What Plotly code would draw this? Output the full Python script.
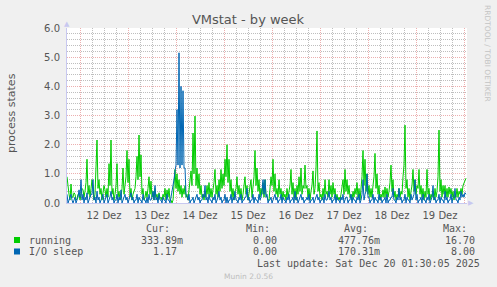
import plotly.graph_objects as go
import pandas as pd

# ---------------- data (30-minute samples) ----------------
start_time = "2025-12-11 17:30"
end_time = "2025-12-20 01:30"

running = [
    0.9, 0.5, 0.3, 0.1, 0.65, 0.2, 0.2, 0.35, 0.3, 0.1, 0.15, 0.3, 0.3, 0.1, 0.25, 0.5, 0.45, 0.2, 0.4, 0.7,
    1.5, 0.3, 0.6, 0.2, 0.5, 0.8, 0.55, 0.1, 0.3, 1.1, 2.16, 0.5, 0.8, 0.3, 0.5, 0.1, 0.3, 0.6, 0.45, 0.2,
    0.5, 0.2, 1.35, 0.6, 2.16, 0.3, 0.5, 0.1, 0.3, 0.6, 1.35, 0.2, 0.4, 0.1, 0.2, 0.5, 1.2, 0.3, 0.6, 0.9,
    1.8, 0.7, 1.5, 0.2, 0.5, 0.1, 0.3, 0.4, 0.5, 0.9, 1.6, 0.8, 2.33, 0.9, 1.65, 0.3, 0.5, 0.1, 0.2, 0.4,
    0.2, 0.5, 0.9, 0.3, 0.75, 0.2, 0.4, 0.1, 0.5, 0.2, 0.3, 0.1, 0.35, 0.15, 0.2, 0.1, 0.3, 0.2, 0.5, 0.1,
    0.45, 0.2, 0.5, 0.1, 0.1, 0.0, 0.1, 0.6, 1.15, 0.5, 1.0, 0.4, 0.8, 0.3, 0.6, 0.2, 0.5, 0.3, 0.6, 0.2,
    0.3, 0.1, 0.5, 0.7, 1.1, 0.6, 2.4, 1.0, 2.98, 0.6, 1.2, 0.5, 1.0, 0.3, 0.6, 0.2, 0.3, 0.1, 0.35, 0.2,
    0.6, 0.3, 0.7, 0.2, 0.5, 0.2, 0.4, 0.7, 1.15, 0.3, 0.6, 0.2, 0.8, 0.4, 1.15, 0.5, 1.0, 0.6, 1.5, 0.9,
    2.0, 0.7, 1.5, 0.4, 0.8, 0.2, 0.5, 0.1, 0.4, 0.5, 0.9, 0.3, 0.6, 0.2, 0.5, 0.1, 0.3, 0.6, 0.9, 0.3,
    0.6, 0.1, 0.35, 0.5, 0.8, 0.2, 0.5, 0.9, 1.8, 0.6, 1.2, 0.4, 0.8, 0.2, 0.5, 0.3, 0.7, 0.2, 0.8, 0.3,
    0.2, 0.1, 0.1, 0.4, 0.9, 0.6, 1.5, 0.4, 1.0, 0.3, 0.5, 0.2, 0.8, 0.3, 0.5, 0.1, 0.4, 0.2, 0.3, 0.1,
    0.5, 0.2, 0.45, 0.6, 1.15, 0.3, 0.7, 0.2, 0.5, 0.1, 0.6, 0.3, 0.9, 0.4, 1.2, 0.3, 0.6, 0.5, 1.3, 0.5,
    0.6, 0.2, 0.5, 0.1, 0.4, 0.6, 1.1, 0.3, 0.5, 1.2, 2.47, 0.4, 0.7, 0.2, 0.3, 0.1, 0.5, 0.2, 0.8, 0.3,
    0.4, 0.2, 0.8, 0.3, 0.6, 0.2, 0.7, 0.3, 0.5, 0.1, 0.3, 0.1, 0.2, 0.1, 0.3, 0.5, 0.8, 0.3, 1.15, 0.4,
    0.8, 0.3, 0.6, 0.2, 0.3, 0.1, 0.4, 0.2, 0.5, 0.3, 0.7, 0.2, 0.5, 0.1, 0.5, 0.9, 1.8, 0.6, 1.5, 0.4,
    1.0, 0.3, 0.6, 0.2, 0.5, 0.2, 0.6, 0.9, 1.7, 0.5, 1.0, 0.3, 0.6, 0.1, 0.3, 0.2, 0.45, 0.2, 0.55, 0.2,
    0.5, 0.2, 0.4, 0.7, 1.3, 0.4, 0.8, 0.2, 0.4, 0.1, 0.3, 0.2, 0.5, 0.2, 0.4, 0.3, 0.9, 1.3, 2.67, 0.5,
    0.8, 0.2, 0.5, 0.1, 0.4, 0.6, 1.15, 0.4, 0.8, 0.3, 0.6, 0.5, 1.15, 0.3, 0.6, 0.2, 0.5, 0.1, 0.4, 0.2,
    1.15, 0.3, 0.5, 0.1, 0.3, 0.2, 0.4, 0.1, 0.5, 0.2, 0.4, 0.9, 2.5, 0.4, 0.8, 0.2, 0.6, 0.3, 0.6, 0.2,
    0.5, 0.2, 0.55, 0.3, 0.5, 0.2, 0.4, 0.1, 0.3, 0.2, 0.5, 0.2, 0.4, 0.3, 0.5, 0.3, 0.6, 0.7, 0.8, 0.85,
]

io_sleep = [
    0.3, 0.0, 0.1, 0.2, 0.3, 0.1, 0.0, 0.1, 0.2, 0.0, 0.1, 0.2, 0.45, 0.2, 0.8, 0.1, 0.3, 0.0, 0.2, 0.1,
    0.35, 0.0, 0.1, 0.2, 0.3, 0.3, 0.8, 0.1, 0.2, 0.0, 0.4, 0.1, 0.2, 0.0, 0.1, 0.2, 0.3, 0.0, 0.1, 0.2,
    0.3, 0.0, 0.1, 0.2, 0.4, 0.1, 0.2, 0.0, 0.1, 0.1, 0.3, 0.0, 0.2, 0.1, 0.45, 0.0, 0.1, 0.2, 0.3, 0.1,
    0.2, 0.0, 0.1, 0.2, 0.35, 0.1, 0.2, 0.0, 0.1, 0.1, 0.3, 0.0, 0.2, 0.1, 0.1, 0.0, 0.3, 0.1, 0.1, 0.0,
    0.2, 0.0, 0.3, 0.1, 0.1, 0.2, 0.4, 0.1, 0.6, 0.1, 0.2, 0.0, 0.3, 0.1, 0.1, 0.0, 0.2, 0.1, 0.1, 0.0,
    0.3, 0.1, 0.1, 0.0, 0.2, 0.3, 0.5, 0.8, 1.1, 1.3, 3.2, 1.3, 5.15, 1.2, 4.0, 1.3, 3.85, 1.2, 1.2, 0.3,
    0.2, 0.1, 0.3, 0.0, 0.1, 0.1, 0.2, 0.0, 0.1, 0.2, 0.3, 0.1, 0.2, 0.0, 0.1, 0.1, 0.3, 0.2, 0.6, 0.1,
    0.2, 0.0, 0.3, 0.1, 0.1, 0.0, 0.2, 0.1, 0.3, 0.0, 0.1, 0.2, 0.4, 0.1, 0.2, 0.0, 0.1, 0.1, 0.3, 0.0,
    0.2, 0.0, 0.1, 0.1, 0.3, 0.0, 0.2, 0.1, 0.4, 0.1, 0.1, 0.0, 0.2, 0.1, 0.3, 0.0, 0.1, 0.1, 0.2, 0.2,
    0.5, 0.1, 0.2, 0.0, 0.1, 0.1, 0.3, 0.0, 0.2, 0.1, 0.1, 0.0, 0.3, 0.1, 0.2, 0.4, 0.8, 0.3, 0.8, 0.2,
    0.3, 0.0, 0.1, 0.1, 0.2, 0.0, 0.1, 0.2, 0.3, 0.1, 0.2, 0.0, 0.1, 0.1, 0.3, 0.0, 0.2, 0.1, 0.1, 0.0,
    0.2, 0.1, 0.3, 0.0, 0.1, 0.1, 0.2, 0.0, 0.4, 0.1, 0.2, 0.0, 0.1, 0.2, 0.3, 0.1, 0.2, 0.0, 0.1, 0.1,
    0.2, 0.1, 0.3, 0.0, 0.1, 0.1, 0.2, 0.0, 0.1, 0.2, 0.3, 0.1, 0.2, 0.0, 0.1, 0.1, 0.2, 0.0, 0.3, 0.1,
    0.1, 0.2, 0.4, 0.1, 0.2, 0.0, 0.1, 0.1, 0.3, 0.0, 0.2, 0.1, 0.1, 0.0, 0.2, 0.1, 0.3, 0.0, 0.1, 0.2,
    0.2, 0.0, 0.1, 0.1, 0.3, 0.0, 0.2, 0.1, 0.1, 0.0, 0.2, 0.1, 0.3, 0.0, 0.1, 0.3, 0.8, 0.1, 0.3, 0.4,
    1.0, 0.2, 0.2, 0.0, 0.1, 0.1, 0.3, 0.0, 0.2, 0.1, 0.1, 0.0, 0.3, 0.1, 0.2, 0.0, 0.1, 0.1, 0.2, 0.0,
    0.3, 0.0, 0.1, 0.1, 0.2, 0.2, 0.5, 0.1, 0.1, 0.0, 0.2, 0.1, 0.5, 0.1, 0.2, 0.0, 0.1, 0.1, 0.3, 0.0,
    0.2, 0.1, 0.1, 0.0, 0.3, 0.1, 0.2, 0.3, 0.8, 0.1, 0.3, 0.0, 0.1, 0.1, 0.2, 0.0, 0.3, 0.1, 0.1, 0.0,
    0.2, 0.1, 0.3, 0.0, 0.1, 0.2, 0.6, 0.1, 0.2, 0.0, 0.1, 0.1, 0.3, 0.0, 0.2, 0.1, 0.1, 0.0, 0.4, 0.1,
    0.2, 0.0, 0.1, 0.1, 0.3, 0.0, 0.2, 0.2, 0.5, 0.1, 0.1, 0.0, 0.2, 0.1, 0.4, 0.2, 0.3, 0.2, 0.35, 0.3,
]

day_labels = ["12 Dez", "13 Dez", "14 Dez", "15 Dez", "16 Dez", "17 Dez", "18 Dez", "19 Dez"]
label_days = ["2025-12-12", "2025-12-13", "2025-12-14", "2025-12-15",
              "2025-12-16", "2025-12-17", "2025-12-18", "2025-12-19"]

legend_names = ["running", "I/O sleep"]
cur_vals = ["333.89m", "1.17"]
min_vals = ["0.00", "0.00"]
avg_vals = ["477.76m", "170.31m"]
max_vals = ["16.70", "8.00"]
colors = ["#00cc00", "#0066b3"]
last_update = "Last update: Sat Dec 20 01:30:05 2025"

times = pd.date_range(start_time, periods=len(running), freq="30min")
label_pos = [pd.Timestamp(d) + pd.Timedelta(hours=12) for d in label_days]

# ---------------- geometry helpers ----------------
W, H = 497, 287
L, R, T, B = 67, 467, 28, 203


def px(xp):
    return (xp - L) / (R - L)


def py(yp):
    return (B - yp) / (B - T)


TEXT = "#555555"
SANS = "DejaVu Sans"
MONO = "DejaVu Sans Mono"

fig = go.Figure()
fig.add_trace(go.Scatter(x=times, y=running, mode="lines", name="running",
                         line=dict(color=colors[0], width=1), xaxis="x", yaxis="y"))
fig.add_trace(go.Scatter(x=times, y=io_sleep, mode="lines", name="I/O sleep",
                         line=dict(color=colors[1], width=1), xaxis="x2", yaxis="y"))

MGRID = "rgba(220,110,110,0.55)"
GRID = "rgba(150,150,150,0.62)"
AXIS = "#c8c8f0"

fig.update_layout(
    width=W, height=H,
    margin=dict(l=L, r=W - R, t=T, b=H - B),
    paper_bgcolor="#f0f0f0", plot_bgcolor="white",
    showlegend=False,
    font=dict(family=SANS, size=10, color=TEXT),
    title=dict(text="VMstat - by week", font=dict(family=SANS, size=13, color=TEXT),
               xref="container", yref="container", x=248 / W, y=1 - 19 / H,
               xanchor="center", yanchor="middle"),
    xaxis=dict(type="date", range=[start_time, end_time],
               tick0="2025-12-12 00:00", dtick=86400000, showticklabels=False, ticks="",
               showgrid=True, gridcolor=MGRID, griddash="1px,1px", gridwidth=1,
               minor=dict(dtick=21600000, tick0="2025-12-12 00:00", showgrid=True,
                          gridcolor=GRID, griddash="1px,1px", gridwidth=1),
               showline=True, linecolor=AXIS, linewidth=1, zeroline=False),
    xaxis2=dict(type="date", overlaying="x", matches="x", range=[start_time, end_time],
                tickmode="array", tickvals=label_pos, ticktext=day_labels,
                showgrid=False, showline=False, zeroline=False,
                ticks="outside", ticklen=3, tickcolor="rgba(0,0,0,0)",
                tickfont=dict(family=SANS, size=10, color=TEXT)),
    yaxis=dict(range=[0, 6], tick0=0, dtick=1, tickformat=".1f",
               showgrid=True, gridcolor=MGRID, griddash="1px,1px", gridwidth=1,
               minor=dict(dtick=0.2, tick0=0, showgrid=True, gridcolor=GRID,
                          griddash="1px,1px", gridwidth=1),
               showline=True, linecolor=AXIS, linewidth=1, zeroline=False,
               ticks="outside", ticklen=4, tickcolor="rgba(0,0,0,0)",
               tickfont=dict(family=SANS, size=10, color=TEXT)),
)

ann = []


def add_text(text, xp, yp, anchor="left", size=10, family=MONO, color=TEXT, angle=0):
    ann.append(dict(text=text, x=px(xp), y=py(yp), xref="paper", yref="paper",
                    xanchor=anchor, yanchor="middle", showarrow=False, textangle=angle,
                    font=dict(family=family, size=size, color=color)))


# axis arrows
add_text("▲", 67, 24, anchor="center", size=7, family=SANS, color=AXIS)
add_text("▶", 471, 203, anchor="center", size=7, family=SANS, color=AXIS)

# y axis title and side watermark
add_text("process states", 11, 113, anchor="center", size=11, family=SANS, angle=-90)
add_text("RRDTOOL / TOBI OETIKER", 488, 53, anchor="center", size=7.5, family=SANS,
         color="#c4c4c4", angle=90)

# legend header
for h, xr in zip(["Cur:", "Min:", "Avg:", "Max:"], [172, 272, 370, 469]):
    add_text(h, xr, 228.5, anchor="right")

rows_y = [240, 251.5]
shapes = []
for k in range(2):
    yy = rows_y[k]
    shapes.append(dict(type="rect", xref="paper", yref="paper",
                       x0=px(14), x1=px(20), y0=py(yy - 3), y1=py(yy + 3),
                       fillcolor=colors[k], line=dict(width=0)))
    add_text(legend_names[k], 27, yy, anchor="left")
    cur = cur_vals[k]
    add_text(cur, 185 if cur.endswith("m") else 179, yy, anchor="right")
    add_text(min_vals[k], 279, yy, anchor="right")
    av = avg_vals[k]
    add_text(av, 382 if av.endswith("m") else 376, yy, anchor="right")
    add_text(max_vals[k], 477, yy, anchor="right")

add_text(last_update, 482, 263.5, anchor="right")
add_text("Munin 2.0.56", 248, 276.5, anchor="center", size=7.5, family=SANS, color="#bdbdbd")

fig.update_layout(annotations=ann, shapes=shapes)
fig.write_html("out.html")
